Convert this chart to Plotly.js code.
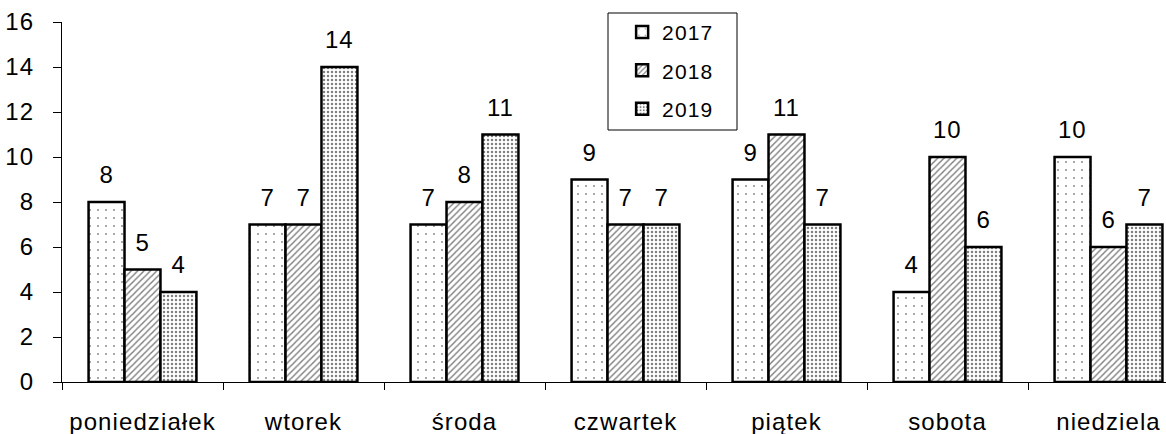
<!DOCTYPE html>
<html>
<head>
<meta charset="utf-8">
<script src="https://cdn.plot.ly/plotly-3.0.1.min.js"></script>
<style>
  html, body { margin: 0; padding: 0; overflow: hidden; background: #fff; }
  #chart { width: 1200px; height: 434px; }
  .main-svg text { letter-spacing: 1.1px; }
</style>
</head>
<body>
<div id="chart"></div>
<script>
const days = ["poniedziałek", "wtorek", "środa", "czwartek", "piątek", "sobota", "niedziela"];
const years = ["2017", "2018", "2019"];
const v2017 = [8, 7, 7, 9, 9, 4, 10];
const v2018 = [5, 7, 8, 7, 11, 10, 6];
const v2019 = [4, 14, 11, 7, 7, 6, 7];
const series = [v2017, v2018, v2019];

const patterns = [
  { shape: ".", size: 8, solidity: 0.04, fgcolor: "#000", bgcolor: "#fff", fillmode: "overlay" },
  { shape: "/", size: 4.5, solidity: 0.32, fgcolor: "#000", bgcolor: "#fff", fillmode: "overlay" },
  { shape: ".", size: 4, solidity: 0.3, fgcolor: "#000", bgcolor: "#fff", fillmode: "overlay" }
];

const bargap = 0.33;
const FONT = "Liberation Sans, Arial, sans-serif";

const traces = series.map((vals, i) => ({
  type: "bar",
  name: years[i],
  x: days,
  y: vals,
  legendgroup: years[i],
  marker: { color: "#fff", pattern: patterns[i], line: { color: "#000", width: 2.5 } },
  hoverinfo: "skip"
}));

const w = (1 - bargap) / 3;
const annotations = [];
series.forEach((vals, i) => {
  vals.forEach((v, j) => {
    annotations.push({
      xref: "x", yref: "y",
      x: j + (i - 1) * w, y: v,
      text: String(v), showarrow: false,
      yanchor: "bottom", yshift: 12,
      font: { family: FONT, size: 24, color: "#000" }
    });
  });
});

const layout = {
  width: 1200, height: 434,
  margin: { l: 62, r: 11, t: 22, b: 52 },
  paper_bgcolor: "#fff", plot_bgcolor: "#fff",
  barmode: "group", bargap: bargap, bargroupgap: 0,
  font: { family: FONT, size: 24, color: "#000" },
  showlegend: true,
  legend: {
    x: 0.497, y: 1.028, xanchor: "left", yanchor: "top",
    bgcolor: "rgba(0,0,0,0)", borderwidth: 0,
    font: { family: FONT, size: 21, color: "#000" },
    traceorder: "grouped", tracegroupgap: 8
  },
  shapes: [{
    type: "rect", xref: "paper", yref: "paper",
    x0: (608 - 62) / 1127, x1: (737 - 62) / 1127,
    y0: (382 - 130) / 360, y1: (382 - 13) / 360,
    line: { color: "#000", width: 1 }, fillcolor: "#fff", layer: "above"
  }],
  xaxis: {
    type: "category",
    showline: true, linecolor: "#000", linewidth: 1,
    ticks: "outside", tickson: "boundaries", ticklen: 7, tickcolor: "#000", tickwidth: 1,
    showgrid: false, zeroline: false,
    tickfont: { family: FONT, size: 24, color: "#000" },
    ticklabelstandoff: 18
  },
  yaxis: {
    range: [0, 16], dtick: 2, tick0: 0,
    showline: true, linecolor: "#000", linewidth: 1,
    ticks: "outside", ticklen: 8, tickcolor: "#000", tickwidth: 1,
    showgrid: false, zeroline: false,
    tickfont: { family: FONT, size: 24, color: "#000" },
    ticklabelstandoff: 14
  },
  annotations: annotations
};

Plotly.newPlot("chart", traces, layout, { displayModeBar: false, staticPlot: true });
</script>
</body>
</html>
